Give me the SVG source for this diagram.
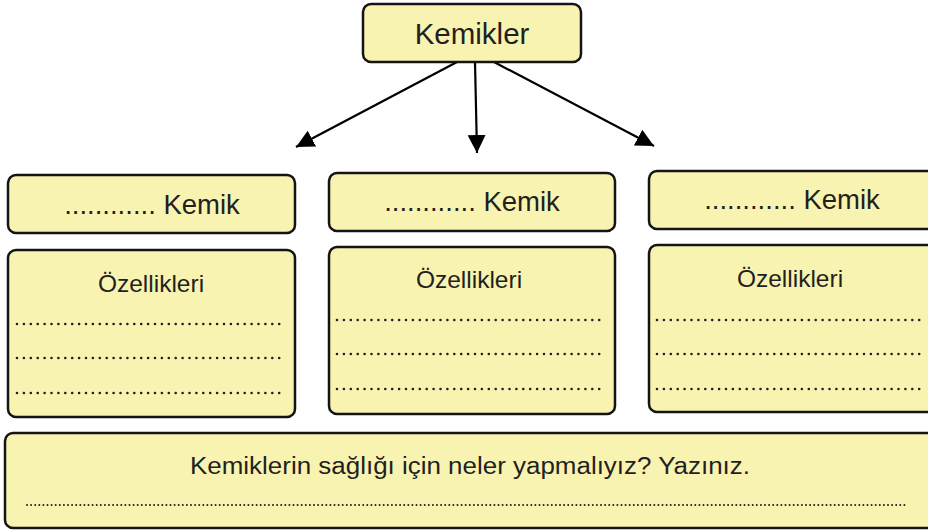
<svg xmlns="http://www.w3.org/2000/svg" width="928" height="532" viewBox="0 0 928 532">
<defs>
<style>
.box{fill:#F8F3B0;stroke:#141414;stroke-width:2.5}
.t{font-family:"Liberation Sans",Arial,sans-serif;fill:#231F20;text-anchor:middle}
.dots{stroke:#231F20;stroke-width:2.6;stroke-linecap:round;stroke-dasharray:0 6.9;fill:none}
.dots2{stroke:#231F20;stroke-width:2;stroke-linecap:round;stroke-dasharray:0 4.1;fill:none}
.con{stroke:#000;stroke-width:2.2;fill:none}
</style>
<marker id="ah" markerUnits="userSpaceOnUse" markerWidth="20" markerHeight="20" viewBox="0 0 20 20" refX="18" refY="10" orient="auto">
<path d="M0,1 L18,10 L0,19 Z" fill="#000"/>
</marker>
</defs>
<rect width="928" height="532" fill="#fff"/>
<g id="connectors">
<line class="con" x1="457" y1="62" x2="296" y2="147" marker-end="url(#ah)"/>
<line class="con" x1="475" y1="62" x2="477" y2="153" marker-end="url(#ah)"/>
<line class="con" x1="494" y1="62" x2="654" y2="146" marker-end="url(#ah)"/>
</g>
<g id="root">
<rect class="box" x="363" y="4" width="218" height="58" rx="8"/>
<text class="t" x="472" y="44" font-size="29.5">Kemikler</text>
</g>
<g id="kemik1">
<rect class="box" x="8" y="175" width="287" height="58" rx="8"/>
<text class="t" x="152" y="214" font-size="27.5">............ Kemik</text>
</g>
<g id="kemik2">
<rect class="box" x="329" y="173" width="286" height="58" rx="8"/>
<text class="t" x="472" y="211" font-size="27.5">............ Kemik</text>
</g>
<g id="kemik3">
<rect class="box" x="649" y="171" width="290" height="58" rx="8"/>
<text class="t" x="792" y="209" font-size="27.5">............ Kemik</text>
</g>
<g id="ozellik1">
<rect class="box" x="8" y="250" width="287" height="167" rx="8"/>
<text class="t" x="151" y="292" font-size="24.5">Özellikleri</text>
<line class="dots" x1="17" y1="324" x2="281" y2="324"/>
<line class="dots" x1="17" y1="358" x2="281" y2="358"/>
<line class="dots" x1="17" y1="393" x2="281" y2="393"/>
</g>
<g id="ozellik2">
<rect class="box" x="329" y="247" width="286" height="167" rx="8"/>
<text class="t" x="469" y="288" font-size="24.5">Özellikleri</text>
<line class="dots" x1="337" y1="320" x2="601" y2="320"/>
<line class="dots" x1="337" y1="354" x2="601" y2="354"/>
<line class="dots" x1="337" y1="389" x2="601" y2="389"/>
</g>
<g id="ozellik3">
<rect class="box" x="649" y="245" width="290" height="167" rx="8"/>
<text class="t" x="790" y="287" font-size="24.5">Özellikleri</text>
<line class="dots" x1="657" y1="320" x2="921" y2="320"/>
<line class="dots" x1="657" y1="354" x2="921" y2="354"/>
<line class="dots" x1="657" y1="389" x2="921" y2="389"/>
</g>
<g id="soru">
<rect class="box" x="5" y="433" width="935" height="95" rx="8"/>
<text class="t" x="470" y="474" font-size="23" textLength="560" lengthAdjust="spacingAndGlyphs">Kemiklerin sağlığı için neler yapmalıyız? Yazınız.</text>
<line class="dots2" x1="27" y1="505" x2="907" y2="505"/>
</g>
</svg>
